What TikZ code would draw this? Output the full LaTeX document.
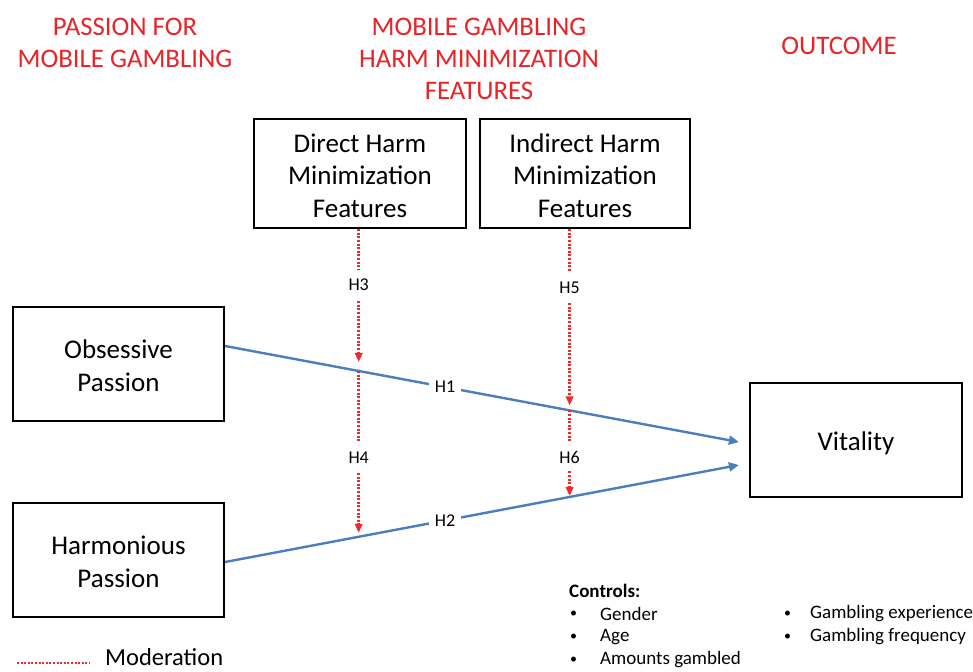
\documentclass[tikz,border=0pt]{standalone}
\usepackage{fontspec}
\setmainfont{Carlito}
\usetikzlibrary{arrows.meta,calc}
\definecolor{headred}{RGB}{232,36,40}
\definecolor{modred}{RGB}{234,44,44}
\definecolor{pathblue}{RGB}{74,126,190}
% extra height on the first line nudges box captions slightly downwards
\newcommand{\capstrut}{\rule{0pt}{22.5pt}}
\newcommand{\smallbullet}{{\fontsize{14}{14}\selectfont\textbullet}}

\begin{document}
\begin{tikzpicture}[x=1pt,y=-1pt,
  heading/.style={text=headred, align=center, inner sep=0pt,
    font=\fontsize{26.8}{32}\selectfont},
  construct/.style={draw, line width=2.2pt, align=center, inner sep=0pt,
    font=\fontsize{27}{32.5}\selectfont},
  causal/.style={draw=pathblue, line width=2.4pt,
    -{Triangle[length=10pt,width=9pt]}},
  moderation/.style={draw=modred, line width=2.6pt, dash pattern=on 2pt off 1.6pt},
  modarrow/.style={moderation, -{Triangle[length=9pt,width=7.5pt]}},
  hyp/.style={font=\fontsize{18}{20}\selectfont, fill=white, inner sep=6pt},
  ctrl/.style={anchor=west, inner sep=0pt, font=\fontsize{19}{23}\selectfont}]

\useasboundingbox[fill=white] (0,0) rectangle (973,671);

% column headings
\node[heading] (hpass) at (125,43) {PASSION FOR\\MOBILE GAMBLING};
\node[heading] (hharm) at (479,59) {MOBILE GAMBLING\\HARM MINIMIZATION\\FEATURES};
\node[heading] (hout)  at (839,46) {OUTCOME};

% constructs
\node[construct, minimum width=212pt, minimum height=109pt] (direct) at (360,173.5)
  {\capstrut Direct Harm\\Minimization\\Features};
\node[construct, minimum width=210pt, minimum height=109pt] (indirect) at (585,173.5)
  {\capstrut Indirect Harm\\Minimization\\Features};
\node[construct, minimum width=211pt, minimum height=114pt] (obs) at (118.5,364)
  {\capstrut Obsessive\\Passion};
\node[construct, minimum width=211pt, minimum height=114pt] (harm) at (118.5,560)
  {\capstrut Harmonious\\Passion};
\node[construct, minimum width=212pt, minimum height=114pt] (vit) at (856,440)
  {\rule{0pt}{25pt}Vitality};

% main effects
\draw[causal] ($(obs.east)+(0,-18)$) --
  coordinate[pos=0.26] (c1) coordinate[pos=0.6705] (c3)
  node[hyp, pos=0.428] (h1) {H1}
  ($(vit.west)+(-10,2)$);
\draw[causal] ($(harm.east)+(0,2)$) --
  coordinate[pos=0.26] (c2) coordinate[pos=0.6705] (c4)
  node[hyp, pos=0.428] (h2) {H2}
  ($(vit.west)+(-10,25)$);

% hypothesis labels on the moderation paths
\node[hyp, fill=none, inner sep=3pt] (h3) at (c1 |- 0,285) {H3};
\node[hyp, fill=none, inner sep=3pt] (h4) at (c1 |- 0,458) {H4};
\node[hyp, fill=none, inner sep=3pt] (h5) at (c3 |- 0,288) {H5};
\node[hyp, fill=none, inner sep=3pt] (h6) at (c3 |- 0,457) {H6};

% moderation paths
\draw[moderation] (h3 |- direct.south) -- ($(h3.north)+(0,-7)$);
\draw[modarrow, shorten >=9pt] ($(h3.south)+(0,7)$) -- (c1);
\draw[moderation] (c1) -- ($(h4.north)+(0,-7)$);
\draw[modarrow, shorten >=4pt] ($(h4.south)+(0,6)$) -- (c2);
\draw[moderation] (h5 |- indirect.south) -- ($(h5.north)+(0,-7)$);
\draw[modarrow, shorten >=5pt] ($(h5.south)+(0,6)$) -- (c3);
\draw[moderation] (c3) -- ($(h6.north)+(0,-6)$);
\draw[modarrow, shorten >=1pt] ($(h6.south)+(0,5)$) -- (c4);

% legend
\coordinate (lega) at (17,663);
\coordinate (legb) at (90,663);
\draw[moderation] (lega) -- (legb);
\node[anchor=west, inner sep=0pt, font=\fontsize{24.5}{28}\selectfont] (legt) at (105,657) {Moderation};

% control variables
\node[ctrl, font=\fontsize{19}{23}\selectfont\bfseries] (ctl) at (569,591) {Controls:};
\node[ctrl] (b1) at (570,614) {\smallbullet};
\node[ctrl] (t1) at (600,614) {Gender};
\node[ctrl] (b2) at (570,637) {\smallbullet};
\node[ctrl] (t2) at (600,637) {Age};
\node[ctrl] (b3) at (570,660) {\smallbullet};
\node[ctrl] (t3) at (600,660) {Amounts gambled};
\node[ctrl] (b4) at (784,614) {\smallbullet};
\node[ctrl] (t4) at (810,614) {Gambling experience};
\node[ctrl] (b5) at (784,637) {\smallbullet};
\node[ctrl] (t5) at (810,637) {Gambling frequency};
\end{tikzpicture}
\end{document}
